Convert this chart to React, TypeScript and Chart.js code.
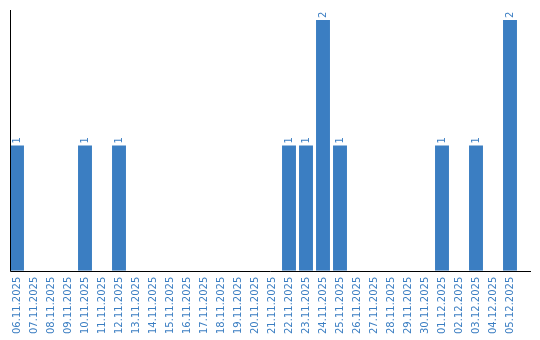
import React, { useEffect, useRef } from "react";
import { Chart, registerables } from "chart.js";

Chart.register(...registerables);

const categories = [
  "06.11.2025", "07.11.2025", "08.11.2025", "09.11.2025", "10.11.2025",
  "11.11.2025", "12.11.2025", "13.11.2025", "14.11.2025", "15.11.2025",
  "16.11.2025", "17.11.2025", "18.11.2025", "19.11.2025", "20.11.2025",
  "21.11.2025", "22.11.2025", "23.11.2025", "24.11.2025", "25.11.2025",
  "26.11.2025", "27.11.2025", "28.11.2025", "29.11.2025", "30.11.2025",
  "01.12.2025", "02.12.2025", "03.12.2025", "04.12.2025", "05.12.2025",
];

const counts = [
  1, 0, 0, 0, 1, 0, 1, 0, 0, 0,
  0, 0, 0, 0, 0, 0, 1, 1, 2, 1,
  0, 0, 0, 0, 0, 1, 0, 1, 0, 2,
];

const BLUE = "#3b7ec2";
const FONT = "'DejaVu Sans', sans-serif";

const axisLines = {
  id: "axisLines",
  afterDraw(chart: any) {
    const { ctx, chartArea } = chart;
    const x0 = Math.round(chartArea.left + 1.5) + 0.5;
    const y0 = Math.round(chartArea.bottom) + 0.5;
    ctx.save();
    ctx.strokeStyle = "#000";
    ctx.lineWidth = 1;
    ctx.beginPath();
    ctx.moveTo(x0, chartArea.top);
    ctx.lineTo(x0, y0);
    ctx.moveTo(x0, y0);
    ctx.lineTo(chartArea.right + 12.5, y0);
    ctx.stroke();
    ctx.restore();
  },
};

const valueLabels = {
  id: "valueLabels",
  afterDatasetsDraw(chart: any) {
    const { ctx } = chart;
    const meta = chart.getDatasetMeta(0);
    const data = chart.data.datasets[0].data as number[];
    ctx.save();
    ctx.fillStyle = BLUE;
    ctx.font = `10px ${FONT}`;
    ctx.textAlign = "left";
    ctx.textBaseline = "middle";
    meta.data.forEach((bar: any, i: number) => {
      const v = data[i];
      if (!v) return;
      ctx.save();
      ctx.translate(bar.x + 0.5, bar.y - 2);
      ctx.rotate(-Math.PI / 2);
      ctx.fillText(String(v), 0, 0);
      ctx.restore();
    });
    ctx.restore();
  },
};

export default function App() {
  const ref = useRef<HTMLCanvasElement>(null);
  useEffect(() => {
    document.body.style.margin = "0";
    const chart = new Chart(ref.current!, {
      type: "bar",
      data: {
        labels: categories,
        datasets: [
          {
            data: counts,
            backgroundColor: BLUE,
            borderWidth: 0,
            categoryPercentage: 1,
            barPercentage: 0.82,
          },
        ],
      },
      options: {
        animation: false,
        responsive: false,
        devicePixelRatio: 1,
        layout: { padding: { left: 8.5, right: 21.5, top: 10, bottom: 0 } },
        plugins: { legend: { display: false }, tooltip: { enabled: false } },
        scales: {
          x: {
            grid: { display: false, drawTicks: false },
            border: { display: false },
            ticks: {
              autoSkip: false,
              maxRotation: 90,
              minRotation: 90,
              padding: 6,
              color: BLUE,
              font: { family: FONT, size: 10 },
            },
          },
          y: {
            display: false,
            min: 0,
            max: 2.08,
          },
        },
      },
      plugins: [axisLines, valueLabels],
    });
    return () => chart.destroy();
  }, []);
  return (
    <div style={{ width: 540, height: 340 }}>
      <canvas ref={ref} width={540} height={340} />
    </div>
  );
}
